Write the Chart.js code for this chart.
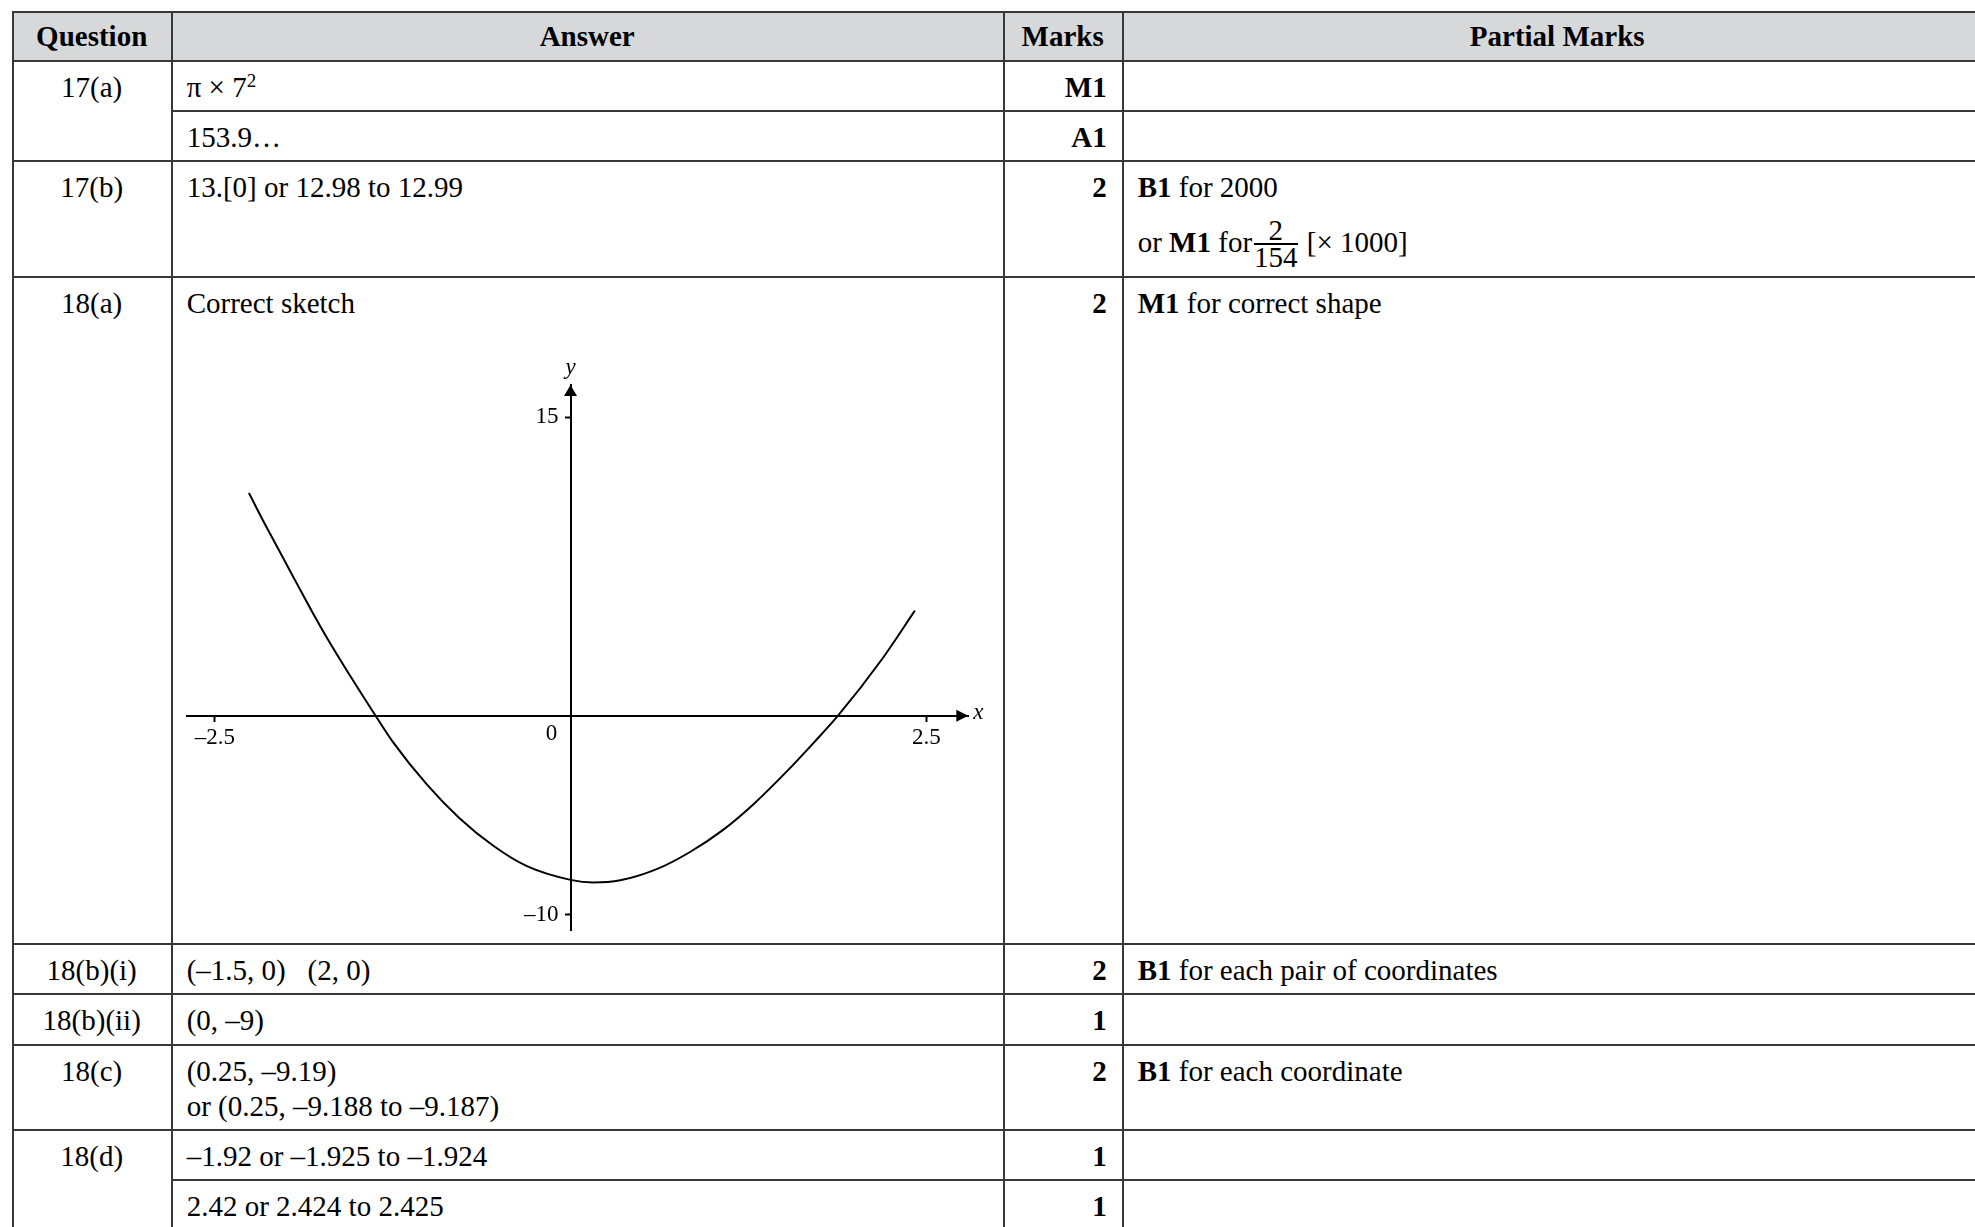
<!DOCTYPE html>
<html>
<head>
<meta charset="utf-8">
<title>Mark scheme 17-18</title>
<script src="https://cdn.jsdelivr.net/npm/chart.js@4.4.1/dist/chart.umd.min.js"></script>
<style>
  html, body { margin: 0; padding: 0; background: #fff; }
  body {
    width: 1975px; height: 1227px; overflow: hidden; position: relative;
    font-family: "Liberation Serif", "Times New Roman", serif; color: #000;
  }
  table.ms {
    position: absolute; left: 11.7px; top: 10.5px;
    border-collapse: collapse; table-layout: fixed; width: 1982px;
    font-size: 29px; line-height: 35px;
  }
  table.ms th, table.ms td {
    border: 2px solid #383838; padding: 8px 15px 0 14px;
    vertical-align: top; text-align: left; font-weight: normal;
  }
  table.ms th { background: #d7d8da; font-weight: bold; text-align: center; padding-top: 6px; }
  table.ms td.q { text-align: center; }
  table.ms td.m { text-align: right; font-weight: bold; }
  sup { font-size: 19px; line-height: 0; vertical-align: 10px; }
  .l2 { margin-top: 13px; }
  .frac {
    display: inline-block; vertical-align: -15px; text-align: center;
    line-height: 24px; padding: 0 2px;
  }
  .frac .num { display: block; padding-bottom: 1px; }
  .frac .den { display: block; border-top: 2px solid #000; }
  #sketch { position: absolute; left: 175px; top: 340px; width: 825px; height: 600px; }
</style>
</head>
<body>
<table class="ms">
  <colgroup>
    <col style="width:159px"><col style="width:832px"><col style="width:119px"><col style="width:870px">
  </colgroup>
  <tr style="height:49.5px"><th>Question</th><th>Answer</th><th>Marks</th><th>Partial Marks</th></tr>
  <tr style="height:50.3px"><td class="q" rowspan="2">17(a)</td><td>π × 7<sup>2</sup></td><td class="m">M1</td><td></td></tr>
  <tr style="height:50.2px"><td>153.9…</td><td class="m">A1</td><td></td></tr>
  <tr style="height:115.7px">
    <td class="q">17(b)</td><td>13.[0] or 12.98 to 12.99</td><td class="m">2</td>
    <td><div><b>B1</b> for 2000</div><div class="l2">or <b>M1</b> for<span class="frac"><span class="num">2</span><span class="den">154</span></span> [× 1000]</div></td>
  </tr>
  <tr style="height:666.6px"><td class="q">18(a)</td><td>Correct sketch</td><td class="m">2</td><td><b>M1</b> for correct shape</td></tr>
  <tr style="height:50.7px"><td class="q">18(b)(i)</td><td>(–1.5, 0)&nbsp;&nbsp; (2, 0)</td><td class="m">2</td><td><b>B1</b> for each pair of coordinates</td></tr>
  <tr style="height:50.5px"><td class="q">18(b)(ii)</td><td>(0, –9)</td><td class="m">1</td><td></td></tr>
  <tr style="height:85.5px"><td class="q">18(c)</td><td>(0.25, –9.19)<br>or (0.25, –9.188 to –9.187)</td><td class="m">2</td><td><b>B1</b> for each coordinate</td></tr>
  <tr style="height:50px"><td class="q" rowspan="2">18(d)</td><td>–1.92 or –1.925 to –1.924</td><td class="m">1</td><td></td></tr>
  <tr style="height:50.5px"><td>2.42 or 2.424 to 2.425</td><td class="m">1</td><td></td></tr>
</table>

<div id="sketch"><canvas id="sketchChart"></canvas></div>

<script>
// points (x, y)
const curveX = [-2.26, -2.16, -2.04, -1.92, -1.81, -1.69, -1.57, -1.46, -1.37, -1.25, -1.01, -0.78, -0.54, -0.31,
                0, 0.16, 0.35, 0.61, 0.84, 1.07, 1.29, 1.52, 1.71, 1.88, 2.19, 2.42];
const curveY = [11.2, 9.8, 8.2, 6.6, 5.15, 3.65, 2.25, 1.0, 0, -1.3, -3.45, -5.15, -6.55, -7.55,
                -8.25, -8.38, -8.27, -7.7, -6.85, -5.75, -4.42, -2.8, -1.35, 0, 2.85, 5.28];

const xTickValues = [-2.5, 2.5];
const yTickValues = [-10, 15];
const xRange = [-2.693, 2.7955];
const yRange = [-10.77, 16.62];

const serif = "'Liberation Serif', 'Times New Roman', serif";

function fmt(v) {
    return v < 0 ? "\u2013" + Math.abs(v) : String(v);
}

// arrowheads, axis names, y tick labels and the origin label
const axisDecor = {
    id: "axisDecor",
    afterDraw(chart) {
        const { ctx, chartArea, scales } = chart;
        const x0 = scales.x.getPixelForValue(0);
        const y0 = scales.y.getPixelForValue(0);
        ctx.save();
        ctx.fillStyle = "#000";
        ctx.beginPath();
        ctx.moveTo(chartArea.right, y0);
        ctx.lineTo(chartArea.right - 12, y0 - 6);
        ctx.lineTo(chartArea.right - 12, y0 + 6);
        ctx.closePath();
        ctx.fill();
        ctx.beginPath();
        ctx.moveTo(x0, chartArea.top);
        ctx.lineTo(x0 - 6.5, chartArea.top + 11);
        ctx.lineTo(x0 + 6.5, chartArea.top + 11);
        ctx.closePath();
        ctx.fill();

        ctx.font = "italic 23px " + serif;
        ctx.textBaseline = "alphabetic";
        ctx.textAlign = "left";
        ctx.fillText("x", chartArea.right + 5, y0 + 3.5);
        ctx.textAlign = "center";
        ctx.fillText("y", x0, chartArea.top - 11.5);

        ctx.font = "23px " + serif;
        ctx.textBaseline = "middle";
        ctx.fillText("0", x0 - 19, y0 + 18);
        ctx.textAlign = "right";
        yTickValues.forEach((v) => {
            ctx.fillText(fmt(v), x0 - 12, scales.y.getPixelForValue(v));
        });
        ctx.restore();
    },
};

const config = {
    type: "line",
    data: {
        datasets: [
            {
                label: "sketch",
                data: curveX.map((x, i) => ({ x: x, y: curveY[i] })),
                borderColor: "#000",
                borderWidth: 2,
                pointRadius: 0,
                fill: false,
                cubicInterpolationMode: "monotone",
            },
        ],
    },
    options: {
        responsive: true,
        maintainAspectRatio: false,
        animation: false,
        events: [],
        layout: { padding: { left: 12.3, right: 31.7, top: 45, bottom: 10 } },
        plugins: { legend: { display: false }, tooltip: { enabled: false } },
        scales: {
            x: {
                type: "linear",
                position: { y: 0 },
                min: xRange[0],
                max: xRange[1],
                afterBuildTicks: (s) => { s.ticks = xTickValues.map((v) => ({ value: v })); },
                grid: { drawOnChartArea: false, drawTicks: true, tickLength: 5, tickWidth: 2, tickColor: "#000" },
                border: { display: true, color: "#000", width: 2 },
                ticks: {
                    color: "#000", padding: 3, autoSkip: false, maxRotation: 0,
                    font: { family: serif, size: 23 },
                    callback: (v) => fmt(v),
                },
            },
            y: {
                type: "linear",
                position: { x: 0 },
                min: yRange[0],
                max: yRange[1],
                afterBuildTicks: (s) => { s.ticks = yTickValues.map((v) => ({ value: v })); },
                grid: { drawOnChartArea: false, drawTicks: true, tickLength: 5, tickWidth: 2, tickColor: "#000" },
                border: { display: true, color: "#000", width: 2 },
                ticks: { display: false, padding: 0 },
            },
        },
    },
    plugins: [axisDecor],
};

var sketchChart = new Chart(document.getElementById("sketchChart"), config);
</script>
</body>
</html>
